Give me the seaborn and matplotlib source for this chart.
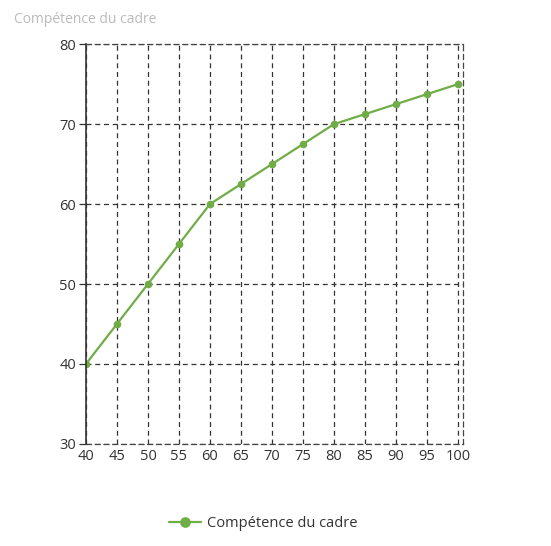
import matplotlib
matplotlib.use("Agg")
import matplotlib.pyplot as plt
import seaborn as sns
import pandas as pd

experience = [40, 45, 50, 55, 60, 65, 70, 75, 80, 85, 90, 95, 100]
competence = [40, 45, 50, 55, 60, 62.5, 65, 67.5, 70, 71.25, 72.5, 73.75, 75]
x_ticks = [40, 45, 50, 55, 60, 65, 70, 75, 80, 85, 90, 95, 100]
y_ticks = [30, 40, 50, 60, 70, 80]
series_name = "Compétence du cadre"

df = pd.DataFrame({"x": experience, "y": competence})

sns.set_style("white")
plt.rcParams["font.family"] = ["Open Sans", "DejaVu Sans"]

fig = plt.figure(figsize=(5.51, 5.46), dpi=100)
ax = fig.add_axes([0.156, 0.187, 0.684, 0.732])

sns.lineplot(data=df, x="x", y="y", ax=ax, color="#70ad47", linewidth=1.6,
             marker="o", markersize=5.5, markeredgewidth=0, label=series_name)

ax.set_xlim(40, 100.8)
ax.set_ylim(30, 80)
ax.set_xticks(x_ticks)
ax.set_yticks(y_ticks)
ax.grid(True, color="#333333", linestyle=(0, (4, 3)), linewidth=0.9)
ax.set_axisbelow(True)

for side in ["top", "right", "bottom"]:
    ax.spines[side].set_color("#444444")
    ax.spines[side].set_linestyle((0, (4, 3)))
    ax.spines[side].set_linewidth(0.9)
ax.spines["left"].set_color("#333333")
ax.spines["left"].set_linewidth(1.2)

ax.tick_params(axis="y", length=5, width=0.9, color="#333333", labelsize=10.5,
               labelcolor="#333333", pad=2, left=True)
ax.tick_params(axis="x", length=0, labelsize=10.5, labelcolor="#333333", pad=4)
ax.set_xlabel("")
ax.set_ylabel("")

fig.text(0.025, 0.965, series_name, color="#bbbbbb", fontsize=10, ha="left", va="center")

leg = ax.legend(loc="center", bbox_to_anchor=(0.5 - 0.03, -0.2), frameon=False,
                fontsize=10.5, handlelength=2.2, handletextpad=0.4, markerscale=1.4)
for t in leg.get_texts():
    t.set_color("#333333")

fig.savefig("out.png", dpi=100)
